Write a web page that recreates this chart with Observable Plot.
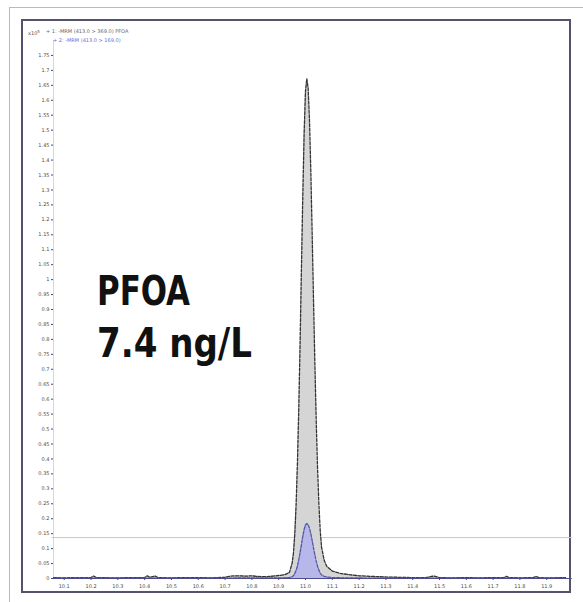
<!DOCTYPE html>
<html>
<head>
<meta charset="utf-8">
<script src="https://cdn.jsdelivr.net/npm/d3@7"></script>
<script src="https://cdn.jsdelivr.net/npm/@observablehq/plot@0.6"></script>
<style>
  html, body { margin: 0; padding: 0; background: #fff; }
  #page { position: relative; width: 583px; height: 602px; overflow: hidden; }
  #outer { position: absolute; left: 9px; top: 7px; width: 620px; height: 640px;
           border-top: 1px solid #b9b9b9; border-left: 1px solid #b9b9b9; }
  #inner { position: absolute; left: 21px; top: 19px; width: 546px; height: 570px;
           border: 2px solid #55536b; }
  #chart, #labels { position: absolute; left: 0; top: 0; }
</style>
</head>
<body>
<div id="page">
  <div id="outer"></div>
  <div id="inner"></div>
  <div id="chart"></div>
  <svg id="labels" width="583" height="602"></svg>
</div>
<script>
// Retention time (min) and response (x10^5 counts) for the quantifier transition
const quantTime = [
  10.06, 10.1, 10.15, 10.2, 10.21, 10.22, 10.3, 10.35, 10.4, 10.41, 10.42, 10.44, 10.45,
  10.5, 10.55, 10.6, 10.65, 10.7, 10.72, 10.75, 10.78, 10.8, 10.82, 10.85, 10.88, 10.9,
  10.92, 10.94, 10.95, 10.955, 10.96, 10.965, 10.97, 10.975, 10.98, 10.985, 10.99, 10.995,
  11.0, 11.005, 11.01, 11.015, 11.02, 11.025, 11.03, 11.035, 11.04, 11.045, 11.05, 11.055,
  11.06, 11.07, 11.08, 11.1, 11.13, 11.17, 11.2, 11.25, 11.3, 11.35, 11.4, 11.45, 11.47,
  11.48, 11.5, 11.55, 11.6, 11.65, 11.7, 11.74, 11.75, 11.76, 11.8, 11.85, 11.86, 11.87,
  11.9, 11.97
];
const quantSignal = [
  0.003, 0.002, 0.003, 0.003, 0.008, 0.003, 0.002, 0.003, 0.003, 0.009, 0.004, 0.008, 0.003,
  0.002, 0.003, 0.003, 0.002, 0.004, 0.008, 0.009, 0.008, 0.009, 0.007, 0.006, 0.008, 0.01,
  0.012, 0.02, 0.05, 0.084, 0.147, 0.245, 0.386, 0.57, 0.79, 1.04, 1.28, 1.49,
  1.63, 1.672, 1.64, 1.53, 1.36, 1.15, 0.93, 0.72, 0.53, 0.37, 0.25, 0.16,
  0.105, 0.06, 0.04, 0.025, 0.017, 0.012, 0.009, 0.007, 0.005, 0.004, 0.003, 0.003, 0.007,
  0.008, 0.003, 0.002, 0.003, 0.002, 0.003, 0.003, 0.007, 0.003, 0.002, 0.003, 0.007, 0.003,
  0.002, 0.003
];

// Qualifier transition
const qualTime = [
  10.06, 10.5, 10.9, 10.94, 10.95, 10.955, 10.96, 10.965, 10.97, 10.975, 10.98, 10.985,
  10.99, 10.995, 11.0, 11.005, 11.01, 11.015, 11.02, 11.025, 11.03, 11.035, 11.04, 11.045,
  11.05, 11.055, 11.06, 11.07, 11.08, 11.1, 11.15, 11.3, 11.97
];
const qualSignal = [
  0.001, 0.001, 0.002, 0.003, 0.006, 0.009, 0.016, 0.027, 0.042, 0.063, 0.087, 0.114,
  0.141, 0.164, 0.179, 0.184, 0.18, 0.168, 0.15, 0.127, 0.102, 0.079, 0.058, 0.041,
  0.028, 0.018, 0.012, 0.007, 0.005, 0.003, 0.002, 0.001, 0.001
];

const thresholdLevel = 0.137;

const xTickLabels = [10.1, 10.2, 10.3, 10.4, 10.5, 10.6, 10.7, 10.8, 10.9, 11.0,
                     11.1, 11.2, 11.3, 11.4, 11.5, 11.6, 11.7, 11.8, 11.9];
const yTickLabels = [0, 0.05, 0.1, 0.15, 0.2, 0.25, 0.3, 0.35, 0.4, 0.45, 0.5, 0.55, 0.6,
                     0.65, 0.7, 0.75, 0.8, 0.85, 0.9, 0.95, 1, 1.05, 1.1, 1.15, 1.2, 1.25,
                     1.3, 1.35, 1.4, 1.45, 1.5, 1.55, 1.6, 1.65, 1.7, 1.75];

const quant = quantTime.map((t, i) => ({t, v: quantSignal[i]}));
const qual = qualTime.map((t, i) => ({t, v: qualSignal[i]}));

const chart = Plot.plot({
  width: 583,
  height: 602,
  marginLeft: 53,
  marginRight: 18,
  marginTop: 40,
  marginBottom: 24,
  style: {background: "transparent", fontFamily: "DejaVu Sans, sans-serif", fontSize: "5px", color: "#4a4a4a"},
  x: {domain: [10.06, 11.97], ticks: xTickLabels, tickFormat: d => d.toFixed(1),
      tickSize: 2, tickPadding: 4, label: null},
  y: {domain: [0, 1.8], ticks: yTickLabels, tickFormat: d => String(d),
      tickSize: 2, tickPadding: 2, label: null},
  marks: [
    Plot.ruleX([10.06], {stroke: "#d6d6de"}),
    Plot.ruleY([thresholdLevel], {x1: 10.055, x2: 11.995, stroke: "#c9c9c9"}),
    Plot.areaY(quant, {x: "t", y: "v", fill: "#d5d5d5"}),
    Plot.areaY(qual, {x: "t", y: "v", fill: "#b7b7ea"}),
    Plot.line(quant, {x: "t", y: "v", stroke: "#333", strokeWidth: 1.3, strokeDasharray: "3,1.5"}),
    Plot.line(qual, {x: "t", y: "v", stroke: "#5656aa", strokeWidth: 1.3, strokeDasharray: "3,1.5"}),
    Plot.ruleY([0], {x1: 10.055, x2: 11.995, stroke: "#4b4b8e", strokeWidth: 1.2})
  ]
});
document.getElementById("chart").append(chart);

// Annotations: scale factor, trace legend and the analyte label
const svg = d3.select("#labels");
const sf = svg.append("text").attr("x", 28).attr("y", 35)
  .attr("font-family", "DejaVu Sans, sans-serif").attr("font-size", 5).attr("fill", "#555");
sf.append("tspan").text("x10");
sf.append("tspan").attr("dy", -2).attr("font-size", 4).text("5");

svg.append("text").attr("x", 46).attr("y", 33)
  .attr("font-family", "DejaVu Sans, sans-serif").attr("font-size", 5).attr("fill", "#666")
  .text("+ 1: -MRM (413.0 > 369.0) PFOA");
svg.append("text").attr("x", 53).attr("y", 42)
  .attr("font-family", "DejaVu Sans, sans-serif").attr("font-size", 5).attr("fill", "#6b6bd0")
  .text("+ 2: -MRM (413.0 > 169.0)");

// Analyte name and concentration, set in a narrow bold face
const big = {"font-family": "'DejaVu Sans Condensed', 'DejaVu Sans', sans-serif",
             "font-weight": "bold", "font-size": 41, "fill": "#111",
             "lengthAdjust": "spacingAndGlyphs"};
const t1 = svg.append("text").attr("x", 97).attr("y", 305).attr("textLength", 93).text("PFOA");
const t2 = svg.append("text").attr("x", 97).attr("y", 357).attr("textLength", 155).text("7.4 ng/L");
for (const [k, v] of Object.entries(big)) { t1.attr(k, v); t2.attr(k, v); }
</script>
</body>
</html>
